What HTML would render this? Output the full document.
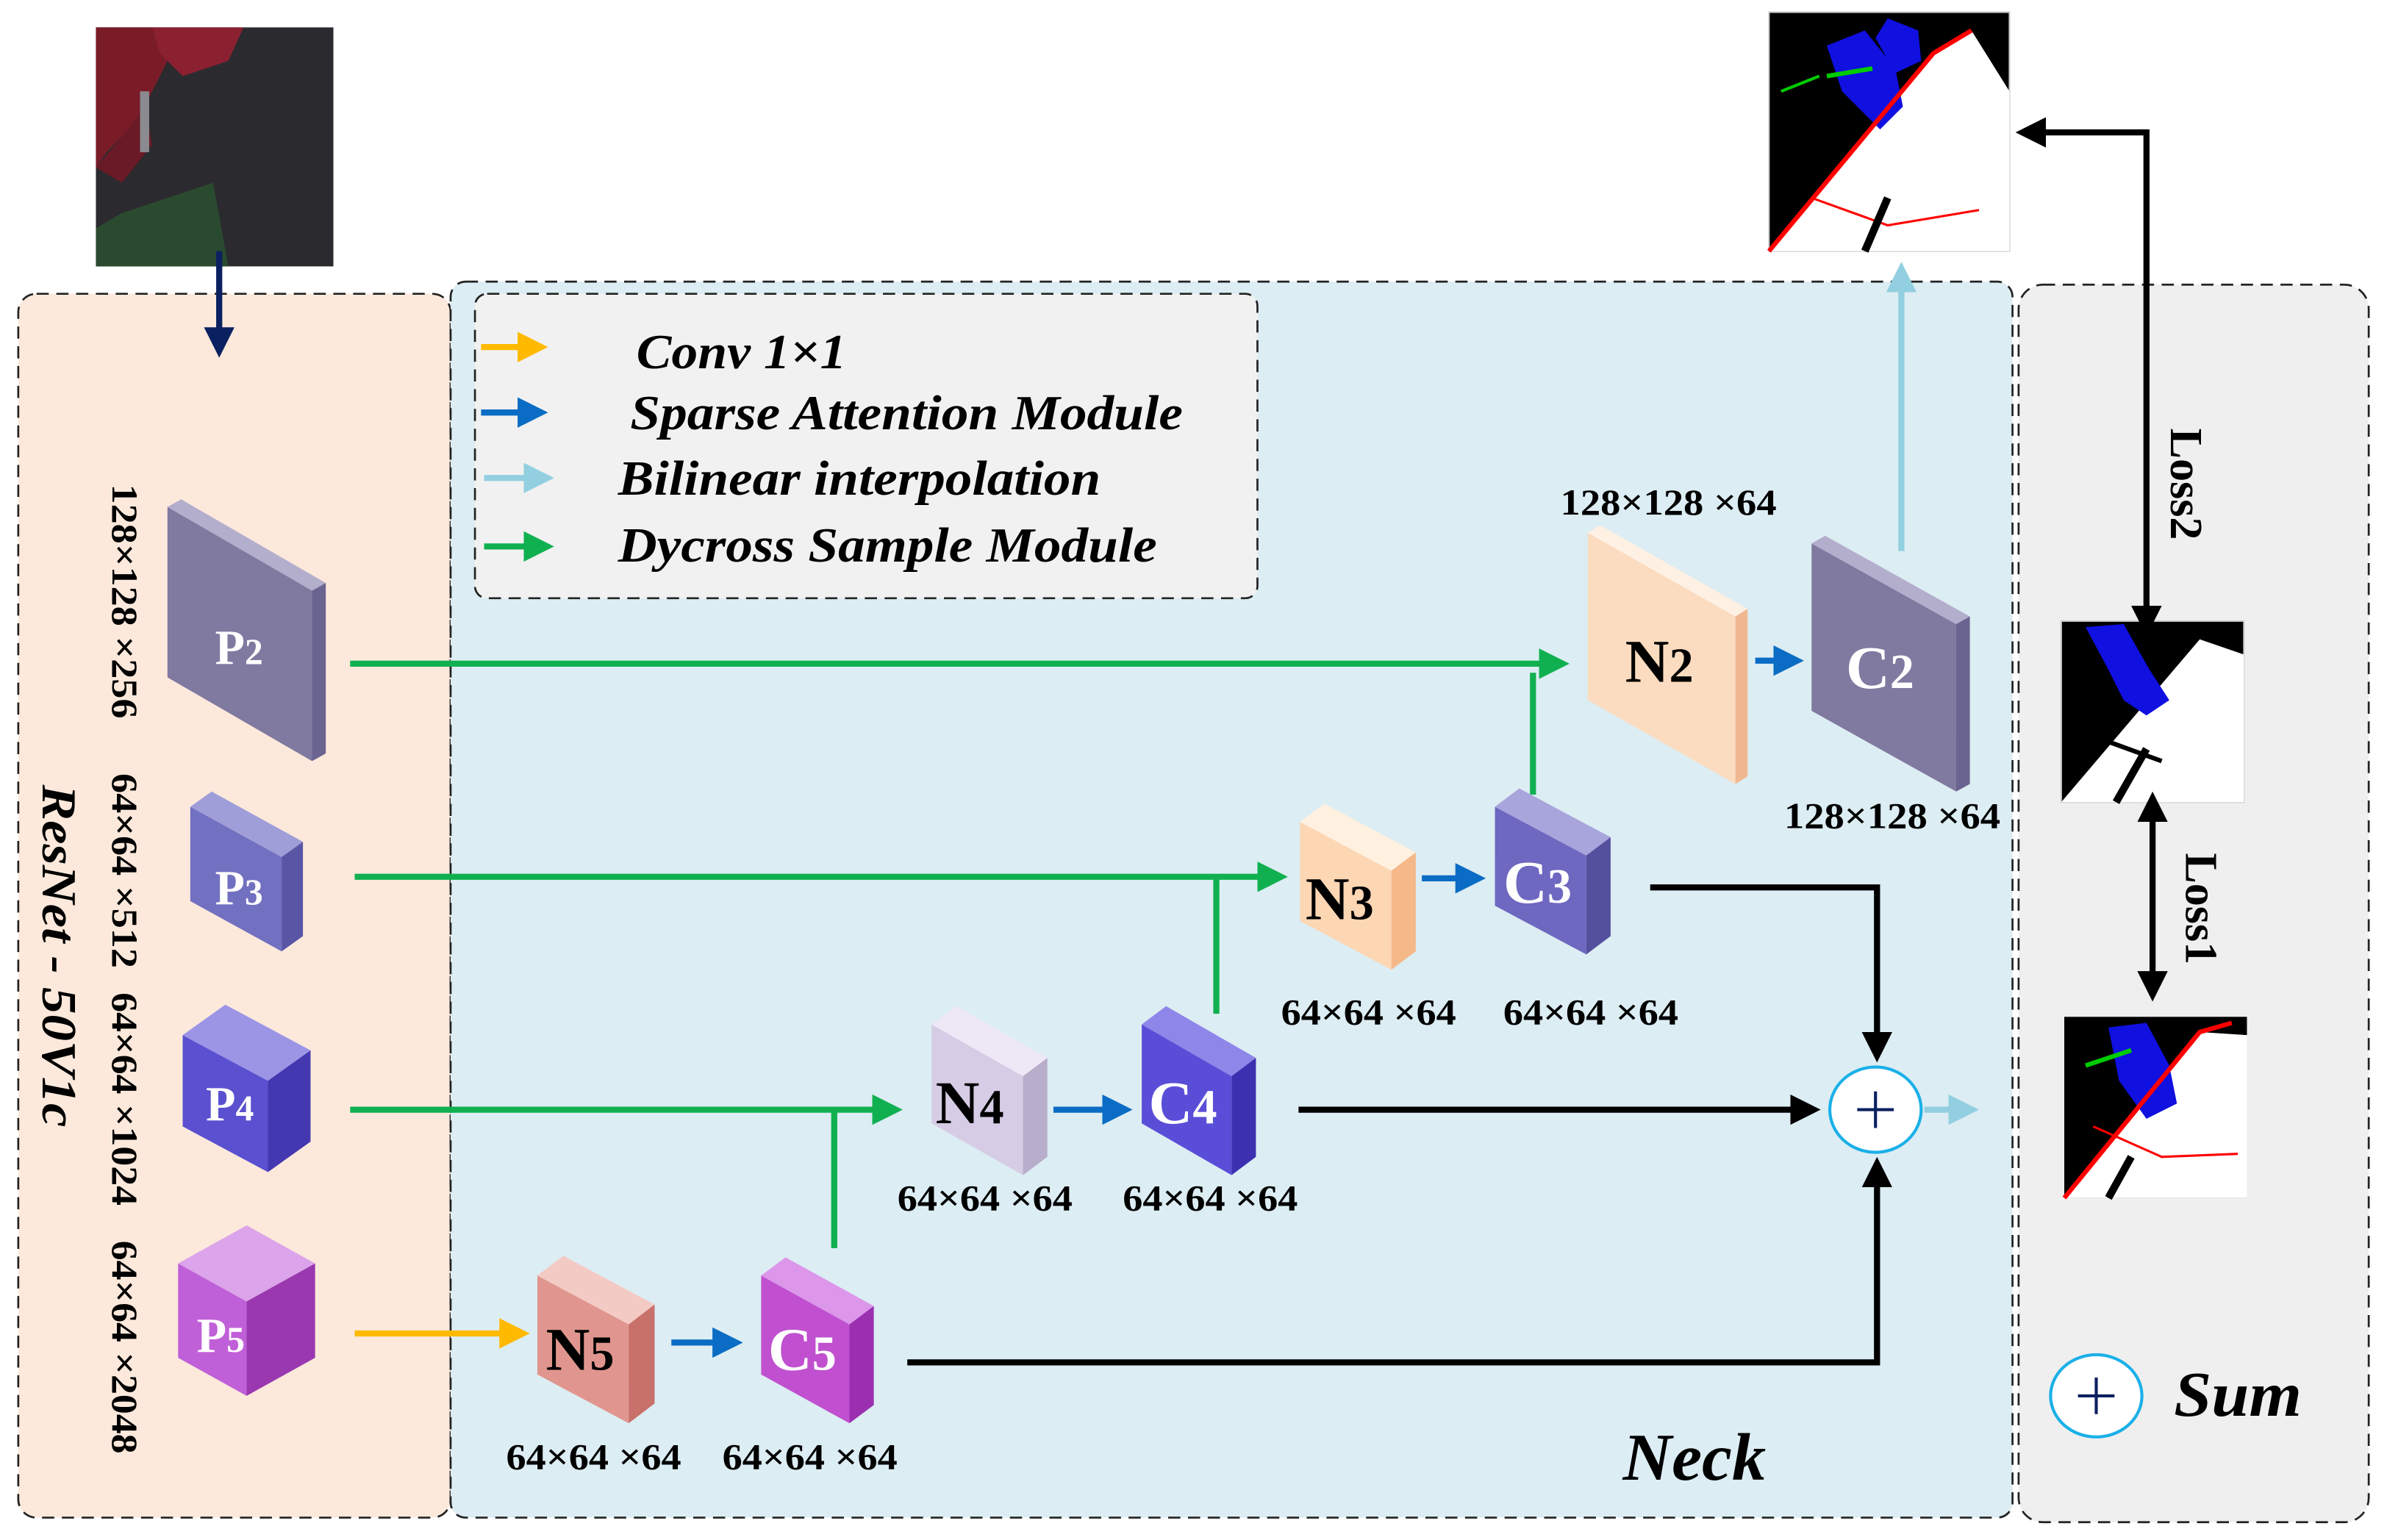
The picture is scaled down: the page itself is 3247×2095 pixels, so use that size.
<!DOCTYPE html>
<html><head><meta charset="utf-8"><style>
html,body{margin:0;padding:0;background:#fff}
svg{display:block}
.t{font-family:"Liberation Serif",serif;font-weight:bold}
</style></head><body>
<svg width="3247" height="2095" viewBox="0 0 1568 1011.7" preserveAspectRatio="none" xmlns="http://www.w3.org/2000/svg">
<defs>
<marker id="ag" markerWidth="5" markerHeight="5" refX="4" refY="2.5" orient="auto" markerUnits="strokeWidth"><path d="M0,0 L5,2.5 L0,5 z" fill="#10b050"/></marker>
<marker id="ab" markerWidth="5" markerHeight="5" refX="4" refY="2.5" orient="auto" markerUnits="strokeWidth"><path d="M0,0 L5,2.5 L0,5 z" fill="#0a6cc4"/></marker>
<marker id="ay" markerWidth="5" markerHeight="5" refX="4" refY="2.5" orient="auto" markerUnits="strokeWidth"><path d="M0,0 L5,2.5 L0,5 z" fill="#ffba00"/></marker>
<marker id="al" markerWidth="5" markerHeight="5" refX="4" refY="2.5" orient="auto" markerUnits="strokeWidth"><path d="M0,0 L5,2.5 L0,5 z" fill="#92cfe0"/></marker>
<marker id="ak" markerWidth="5" markerHeight="5" refX="4" refY="2.5" orient="auto" markerUnits="strokeWidth"><path d="M0,0 L5,2.5 L0,5 z" fill="#000"/></marker>
<marker id="ak2" markerWidth="5" markerHeight="5" refX="1" refY="2.5" orient="auto-start-reverse" markerUnits="strokeWidth"><path d="M0,0 L5,2.5 L0,5 z" fill="#000"/></marker>
<marker id="an" markerWidth="5" markerHeight="5" refX="4" refY="2.5" orient="auto" markerUnits="strokeWidth"><path d="M0,0 L5,2.5 L0,5 z" fill="#0a2060"/></marker>
</defs>

<rect x="12" y="193" width="284" height="804" rx="12" fill="#fce9dc" stroke="#222" stroke-width="1.3" stroke-dasharray="8,5"/>
<rect x="296" y="185" width="1026" height="812" rx="10" fill="#dcedf3" stroke="#222" stroke-width="1.3" stroke-dasharray="8,5"/>
<rect x="1326" y="187" width="230" height="813" rx="16" fill="#efefef" stroke="#222" stroke-width="1.3" stroke-dasharray="8,5"/>
<rect x="312" y="193" width="514" height="200" rx="8" fill="#f1f1f1" stroke="#222" stroke-width="1.3" stroke-dasharray="8,5"/>

<line x1="316" y1="228" x2="356" y2="228" stroke="#ffba00" stroke-width="4" marker-end="url(#ay)"/>
<line x1="316" y1="271" x2="356" y2="271" stroke="#0a6cc4" stroke-width="4" marker-end="url(#ab)"/>
<line x1="318" y1="314" x2="360" y2="314" stroke="#92cfe0" stroke-width="4" marker-end="url(#al)"/>
<line x1="318" y1="359" x2="360" y2="359" stroke="#10b050" stroke-width="4" marker-end="url(#ag)"/>
<g class="t" font-style="italic" font-size="32" fill="#000">
<text x="418" y="242" textLength="138" lengthAdjust="spacingAndGlyphs">Conv 1×1</text>
<text x="414" y="282" textLength="363" lengthAdjust="spacingAndGlyphs">Sparse Attention Module</text>
<text x="406" y="325" textLength="317" lengthAdjust="spacingAndGlyphs">Bilinear interpolation</text>
<text x="406" y="369" textLength="354" lengthAdjust="spacingAndGlyphs">Dycross Sample Module</text>
</g>

<!-- input image -->
<rect x="63" y="18" width="156" height="157" fill="#2b2a2e"/>
<polygon points="63,18 100,18 110,40 90,80 70,100 63,110" fill="#7a1c28"/>
<polygon points="100,18 160,18 150,40 120,50 105,35" fill="#8a2030"/>
<polygon points="63,110 80,90 95,70 100,95 80,120" fill="#6a1a26"/>
<rect x="92" y="60" width="6" height="40" fill="#8a8a90"/>
<polygon points="80,140 140,120 150,175 63,175 63,150" fill="#2a4a30"/>
<line x1="144" y1="165" x2="144" y2="231" stroke="#0a2060" stroke-width="4" marker-end="url(#an)"/>

<!-- top output image -->
<rect x="1162" y="8" width="158" height="157" fill="#000" stroke="#ccc"/>
<polygon points="1162,165 1270,35 1295,20 1320,60 1320,165" fill="#fff"/>
<polygon points="1200,30 1225,20 1245,45 1250,70 1235,85 1210,60" fill="#1010e0"/>
<polygon points="1240,12 1260,20 1262,40 1245,48 1232,25" fill="#1010e0"/>
<polyline points="1162,165 1270,35 1295,20" fill="none" stroke="#f00" stroke-width="3"/>
<polyline points="1190,130 1240,148 1300,138" fill="none" stroke="#f00" stroke-width="1.5"/>
<line x1="1240" y1="130" x2="1225" y2="165" stroke="#000" stroke-width="5"/>
<line x1="1170" y1="60" x2="1195" y2="50" stroke="#0c0" stroke-width="2"/>
<line x1="1200" y1="50" x2="1230" y2="45" stroke="#0c0" stroke-width="3"/>

<!-- middle image -->
<rect x="1354" y="408" width="120" height="119" fill="#000" stroke="#ccc"/>
<polygon points="1354,527 1445,420 1474,430 1474,527" fill="#fff"/>
<polygon points="1370,412 1395,410 1412,440 1425,460 1410,470 1395,460 1385,440" fill="#1010e0"/>
<line x1="1410" y1="492" x2="1390" y2="527" stroke="#000" stroke-width="5"/>
<line x1="1365" y1="480" x2="1420" y2="500" stroke="#000" stroke-width="3"/>

<!-- bottom image -->
<rect x="1356" y="668" width="120" height="119" fill="#000"/>
<polygon points="1356,787 1445,678 1476,680 1476,787" fill="#fff"/>
<polygon points="1385,675 1410,672 1425,700 1430,725 1410,735 1392,710" fill="#1010e0"/>
<polyline points="1356,787 1445,678 1466,672" fill="none" stroke="#f00" stroke-width="3"/>
<polyline points="1375,740 1420,760 1470,758" fill="none" stroke="#f00" stroke-width="1.5"/>
<line x1="1400" y1="760" x2="1385" y2="787" stroke="#000" stroke-width="5"/>
<line x1="1370" y1="700" x2="1400" y2="690" stroke="#0c0" stroke-width="3"/>

<polyline points="1410,402 1410,87 1328,87" fill="none" stroke="#000" stroke-width="4" marker-end="url(#ak)" marker-start="url(#ak2)"/>
<line x1="1414" y1="536" x2="1414" y2="654" stroke="#000" stroke-width="4" marker-end="url(#ak)" marker-start="url(#ak2)"/>
<text class="t" font-size="30" transform="translate(1426,318) rotate(90)" text-anchor="middle">Loss2</text>
<text class="t" font-size="30" transform="translate(1436,597) rotate(90)" text-anchor="middle">Loss1</text>

<ellipse cx="1377" cy="917" rx="30" ry="27" fill="#fff" stroke="#1ab0e8" stroke-width="2"/>
<path d="M1365,917 H1389 M1377,905 V929" stroke="#0a2060" stroke-width="2"/>
<text class="t" x="1428" y="930" font-size="42" font-style="italic" textLength="84" lengthAdjust="spacingAndGlyphs">Sum</text>
<text class="t" x="1066" y="972" font-size="44" font-style="italic" textLength="94" lengthAdjust="spacingAndGlyphs">Neck</text>

<g fill="none" stroke-width="4">
<line x1="230" y1="436" x2="1027" y2="436" stroke="#10b050" marker-end="url(#ag)"/>
<line x1="1007" y1="522" x2="1007" y2="442" stroke="#10b050"/>
<line x1="233" y1="576" x2="842" y2="576" stroke="#10b050" marker-end="url(#ag)"/>
<line x1="799" y1="666" x2="799" y2="576" stroke="#10b050"/>
<line x1="230" y1="729" x2="589" y2="729" stroke="#10b050" marker-end="url(#ag)"/>
<line x1="548" y1="820" x2="548" y2="729" stroke="#10b050"/>
<line x1="233" y1="876" x2="344" y2="876" stroke="#ffba00" marker-end="url(#ay)"/>
<line x1="441" y1="882" x2="484" y2="882" stroke="#0a6cc4" marker-end="url(#ab)"/>
<line x1="692" y1="729" x2="740" y2="729" stroke="#0a6cc4" marker-end="url(#ab)"/>
<line x1="934" y1="577" x2="972" y2="577" stroke="#0a6cc4" marker-end="url(#ab)"/>
<line x1="1153" y1="434" x2="1181" y2="434" stroke="#0a6cc4" marker-end="url(#ab)"/>
<line x1="1249" y1="362" x2="1249" y2="176" stroke="#92cfe0" marker-end="url(#al)"/>
<polyline points="1084,583 1233,583 1233,694" stroke="#000" marker-end="url(#ak)"/>
<line x1="853" y1="729" x2="1192" y2="729" stroke="#000" marker-end="url(#ak)"/>
<polyline points="596,895 1233,895 1233,764" stroke="#000" marker-end="url(#ak)"/>
<line x1="1264" y1="729" x2="1296" y2="729" stroke="#92cfe0" marker-end="url(#al)"/>
</g>
<ellipse cx="1232" cy="729" rx="30" ry="28" fill="#fff" stroke="#1ab0e8" stroke-width="2"/>
<path d="M1220,729 H1244 M1232,717 V741" stroke="#0a2060" stroke-width="2"/>

<polygon points="110,333 205,388 205,500 110,445" fill="#8079a0"/>
<polygon points="110,333 119,328 214,383 205,388" fill="#b3aecc"/>
<polygon points="205,388 214,383 214,495 205,500" fill="#6a6490"/>
<polygon points="125,530 185,563 185,625 125,592" fill="#7270c0"/>
<polygon points="125,530 139,520 199,553 185,563" fill="#a09ed8"/>
<polygon points="185,563 199,553 199,615 185,625" fill="#5956a6"/>
<polygon points="120,680 176,710 176,770 120,740" fill="#5a50d0"/>
<polygon points="120,680 148,660 204,690 176,710" fill="#9c95e6"/>
<polygon points="176,710 204,690 204,750 176,770" fill="#4438b0"/>
<polygon points="117,830 162,855 162,917 117,892" fill="#c060d8"/>
<polygon points="117,830 162,805 207,830 162,855" fill="#dca4ea"/>
<polygon points="162,855 207,830 207,892 162,917" fill="#9a38b0"/>
<polygon points="353,838 413,870 413,935 353,903" fill="#e0968e"/>
<polygon points="353,838 370,825 430,857 413,870" fill="#f4cac4"/>
<polygon points="413,870 430,857 430,922 413,935" fill="#c8706a"/>
<polygon points="500,838 558,870 558,935 500,903" fill="#c050d0"/>
<polygon points="500,838 516,826 574,858 558,870" fill="#dc96ea"/>
<polygon points="558,870 574,858 574,923 558,935" fill="#9a30b0"/>
<polygon points="612,673 672,707 672,772 612,738" fill="#d6cce6"/>
<polygon points="612,673 628,661 688,695 672,707" fill="#eee8f6"/>
<polygon points="672,707 688,695 688,760 672,772" fill="#b8aecb"/>
<polygon points="750,673 809,707 809,772 750,738" fill="#5a4ed8"/>
<polygon points="750,673 766,661 825,695 809,707" fill="#8e86e8"/>
<polygon points="809,707 825,695 825,760 809,772" fill="#3c30b0"/>
<polygon points="854,540 914,572 914,637 854,605" fill="#fdd6b4"/>
<polygon points="854,540 870,528 930,560 914,572" fill="#fff0e0"/>
<polygon points="914,572 930,560 930,625 914,637" fill="#f5b888"/>
<polygon points="982,530 1042,562 1042,627 982,595" fill="#6e68c0"/>
<polygon points="982,530 998,518 1058,550 1042,562" fill="#a8a4dc"/>
<polygon points="1042,562 1058,550 1058,615 1042,627" fill="#55509e"/>
<polygon points="1043,350 1140,405 1140,515 1043,460" fill="#fcdcc0"/>
<polygon points="1043,350 1051,345 1148,400 1140,405" fill="#fff0e4"/>
<polygon points="1140,405 1148,400 1148,510 1140,515" fill="#f0b890"/>
<polygon points="1190,357 1285,410 1285,520 1190,467" fill="#8079a0"/>
<polygon points="1190,357 1199,352 1294,405 1285,410" fill="#b3aecc"/>
<polygon points="1285,410 1294,405 1294,515 1285,520" fill="#6a6490"/>

<g class="t" font-size="40" text-anchor="middle">
<text x="157" y="436" fill="#fff" font-size="32">P<tspan font-size="24">2</tspan></text>
<text x="157" y="594" fill="#fff" font-size="32">P<tspan font-size="24">3</tspan></text>
<text x="151" y="736" fill="#fff" font-size="32">P<tspan font-size="24">4</tspan></text>
<text x="145" y="888" fill="#fff" font-size="32">P<tspan font-size="24">5</tspan></text>
<text x="381" y="900" fill="#000">N<tspan font-size="32">5</tspan></text>
<text x="527" y="900" fill="#fff">C<tspan font-size="32">5</tspan></text>
<text x="637" y="738" fill="#000">N<tspan font-size="32">4</tspan></text>
<text x="777" y="738" fill="#fff">C<tspan font-size="32">4</tspan></text>
<text x="880" y="604" fill="#000">N<tspan font-size="32">3</tspan></text>
<text x="1010" y="593" fill="#fff">C<tspan font-size="32">3</tspan></text>
<text x="1090" y="448" fill="#000">N<tspan font-size="32">2</tspan></text>
<text x="1235" y="452" fill="#fff">C<tspan font-size="32">2</tspan></text>
</g>

<g class="t" font-size="24" text-anchor="middle">
<text x="1096" y="338" textLength="142" lengthAdjust="spacingAndGlyphs">128×128 ×64</text>
<text x="1243" y="544" textLength="142" lengthAdjust="spacingAndGlyphs">128×128 ×64</text>
<text x="899" y="673" textLength="115" lengthAdjust="spacingAndGlyphs">64×64 ×64</text>
<text x="1045" y="673" textLength="115" lengthAdjust="spacingAndGlyphs">64×64 ×64</text>
<text x="647" y="795" textLength="115" lengthAdjust="spacingAndGlyphs">64×64 ×64</text>
<text x="795" y="795" textLength="115" lengthAdjust="spacingAndGlyphs">64×64 ×64</text>
<text x="390" y="965" textLength="115" lengthAdjust="spacingAndGlyphs">64×64 ×64</text>
<text x="532" y="965" textLength="115" lengthAdjust="spacingAndGlyphs">64×64 ×64</text>
<text transform="translate(74,395) rotate(90)" textLength="154" lengthAdjust="spacingAndGlyphs">128×128 ×256</text>
<text transform="translate(74,572) rotate(90)" textLength="128" lengthAdjust="spacingAndGlyphs">64×64 ×512</text>
<text transform="translate(74,722) rotate(90)" textLength="140" lengthAdjust="spacingAndGlyphs">64×64 ×1024</text>
<text transform="translate(74,885) rotate(90)" textLength="140" lengthAdjust="spacingAndGlyphs">64×64 ×2048</text>
</g>
<text class="t" font-size="32" font-style="italic" text-anchor="middle" transform="translate(28,628) rotate(90)" textLength="225" lengthAdjust="spacingAndGlyphs">ResNet - 50V1c</text>
</svg>
</body></html>
